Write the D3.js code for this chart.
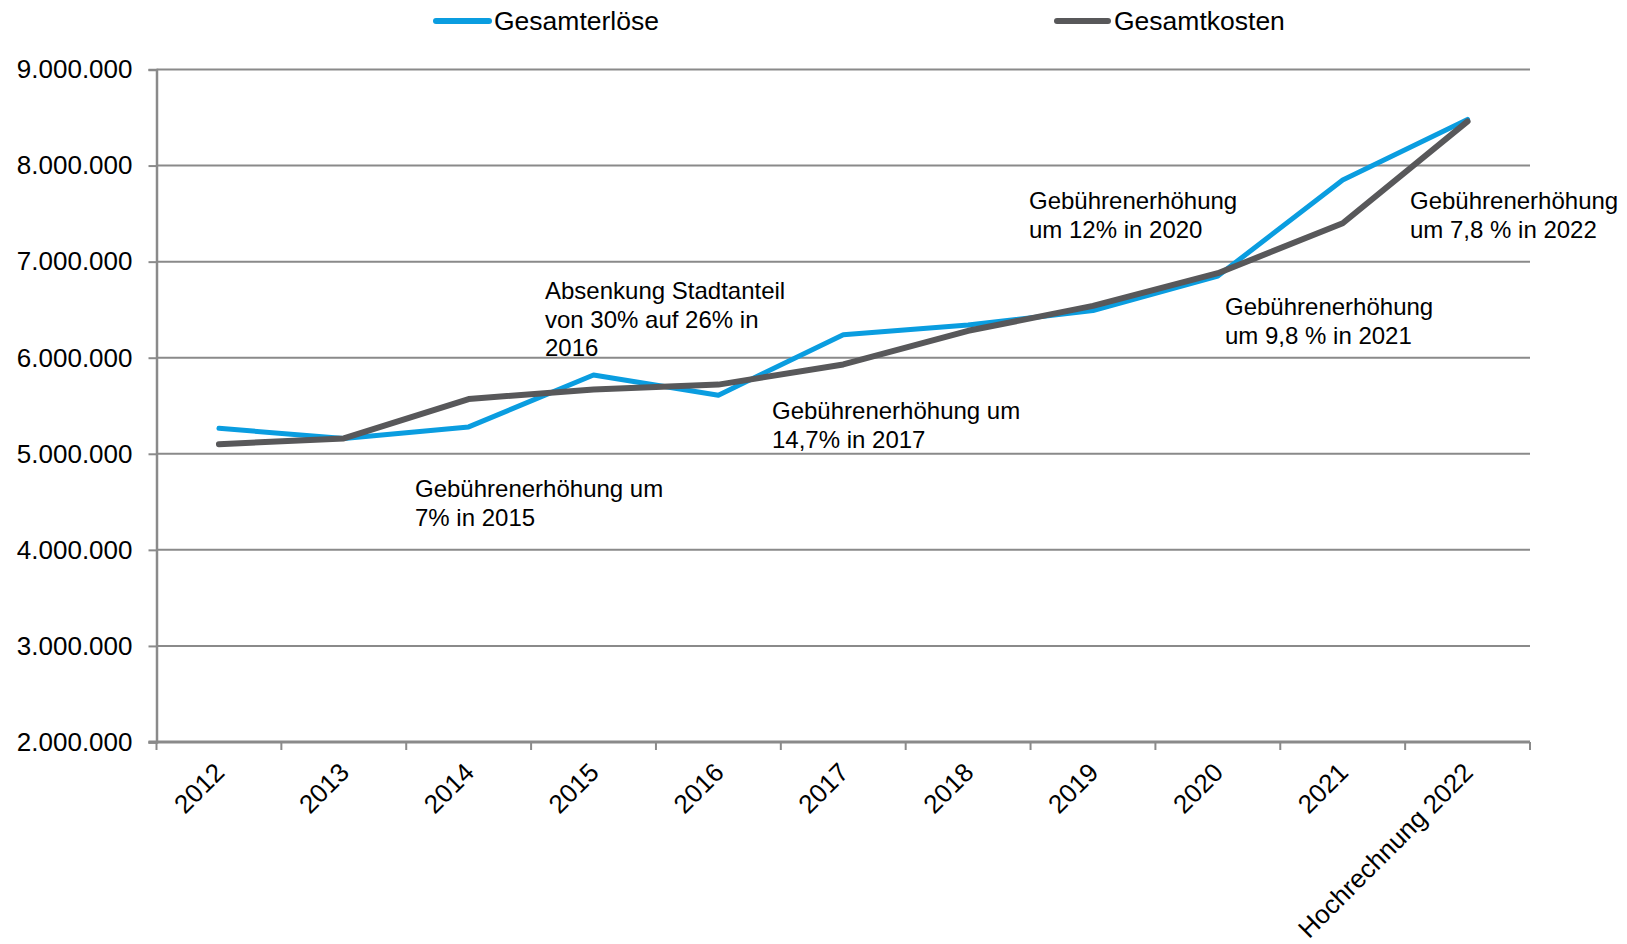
<!DOCTYPE html>
<html>
<head>
<meta charset="utf-8">
<script src="https://cdn.jsdelivr.net/npm/d3@7"></script>
<style>
  html, body { margin: 0; padding: 0; background: #ffffff; }
  svg { display: block; font-family: "Liberation Sans", Arial, sans-serif; }
</style>
</head>
<body>
<svg id="chart" width="1627" height="944"></svg>
<script>
const categories = ["2012", "2013", "2014", "2015", "2016", "2017", "2018", "2019", "2020", "2021", "Hochrechnung 2022"];
const gesamterloese = [5265000, 5160000, 5280000, 5820000, 5610000, 6240000, 6340000, 6490000, 6850000, 7850000, 8480000];
const gesamtkosten = [5100000, 5160000, 5570000, 5670000, 5720000, 5930000, 6280000, 6540000, 6880000, 7400000, 8460000];
const yTicks = [2000000, 3000000, 4000000, 5000000, 6000000, 7000000, 8000000, 9000000];
const seriesNames = ["Gesamterlöse", "Gesamtkosten"];
const seriesColors = ["#0a9de0", "#58585a"];
const annotations = [
  { lines: ["Gebührenerhöhung um", "7% in 2015"], x: 415, y: 497 },
  { lines: ["Absenkung Stadtanteil", "von 30% auf 26% in", "2016"], x: 545, y: 299 },
  { lines: ["Gebührenerhöhung um", "14,7% in 2017"], x: 772, y: 419 },
  { lines: ["Gebührenerhöhung", "um 12% in 2020"], x: 1029, y: 209 },
  { lines: ["Gebührenerhöhung", "um 9,8 % in 2021"], x: 1225, y: 315 },
  { lines: ["Gebührenerhöhung", "um 7,8 % in 2022"], x: 1410, y: 209 }
];

const svg = d3.select("#chart");
const plotLeft = 156.5, plotRight = 1530, plotTop = 69.5, plotBottom = 742;

const x = d3.scaleBand().domain(categories).range([plotLeft, plotRight]).padding(0);
const y = d3.scaleLinear().domain([2000000, 9000000]).range([plotBottom, plotTop]);
const cx = c => x(c) + x.bandwidth() / 2;

const de = d3.formatLocale({ decimal: ",", thousands: ".", grouping: [3], currency: ["", " €"] });
const fmt = de.format(",.0f");

const gridColor = "#8a8a8a";

// Gridlines
svg.append("g").selectAll("line").data(yTicks.filter(t => t > 2000000)).join("line")
  .attr("x1", plotLeft).attr("x2", plotRight)
  .attr("y1", d => y(d)).attr("y2", d => y(d))
  .attr("stroke", gridColor).attr("stroke-width", 2);

// Y axis
const yAxis = svg.append("g").attr("transform", `translate(${plotLeft},0)`)
  .call(d3.axisLeft(y).tickValues(yTicks).tickFormat(fmt).tickSize(8).tickPadding(16));
yAxis.select(".domain").attr("stroke", gridColor).attr("stroke-width", 2.5);
yAxis.selectAll(".tick line").attr("stroke", gridColor).attr("stroke-width", 2);
yAxis.selectAll(".tick text").attr("font-size", 26).attr("fill", "#000")
  .attr("font-family", "'Liberation Sans', Arial, sans-serif");

// X axis line
svg.append("line").attr("x1", plotLeft - 8).attr("x2", plotRight)
  .attr("y1", plotBottom).attr("y2", plotBottom)
  .attr("stroke", gridColor).attr("stroke-width", 3);

// X tick marks at band boundaries
const boundaries = categories.map(c => x(c)).concat([plotRight]);
svg.append("g").selectAll("line").data(boundaries).join("line")
  .attr("x1", d => d).attr("x2", d => d)
  .attr("y1", plotBottom).attr("y2", plotBottom + 8)
  .attr("stroke", gridColor).attr("stroke-width", 2);

// X labels
svg.append("g").selectAll("text").data(categories).join("text")
  .attr("transform", d => `translate(${cx(d) + 7},${plotBottom + 32}) rotate(-45)`)
  .attr("text-anchor", "end")
  .attr("font-size", 26)
  .attr("fill", "#000")
  .text(d => d);

// Lines
const line = d3.line().x((d, i) => cx(categories[i])).y(d => y(d));
const seriesData = [gesamterloese, gesamtkosten];
const widths = [5, 6];
seriesData.forEach((s, k) => {
  svg.append("path").datum(s)
    .attr("d", line)
    .attr("fill", "none")
    .attr("stroke", seriesColors[k])
    .attr("stroke-width", widths[k])
    .attr("stroke-linejoin", "round")
    .attr("stroke-linecap", "round");
});

// Legend
const legendPos = [{ x1: 436, x2: 489, tx: 494 }, { x1: 1057, x2: 1108, tx: 1114 }];
seriesNames.forEach((n, k) => {
  const g = svg.append("g");
  g.append("line").attr("x1", legendPos[k].x1).attr("x2", legendPos[k].x2)
    .attr("y1", 21).attr("y2", 21)
    .attr("stroke", seriesColors[k]).attr("stroke-width", 6).attr("stroke-linecap", "round");
  g.append("text").attr("x", legendPos[k].tx).attr("y", 21).attr("dy", "0.35em")
    .attr("font-size", 26.5).attr("fill", "#000").text(n);
});

// Annotations
annotations.forEach(a => {
  const t = svg.append("text").attr("font-size", 24).attr("fill", "#000");
  a.lines.forEach((l, i) => {
    t.append("tspan").attr("x", a.x).attr("y", a.y + i * 28.5).text(l);
  });
});
</script>
</body>
</html>
